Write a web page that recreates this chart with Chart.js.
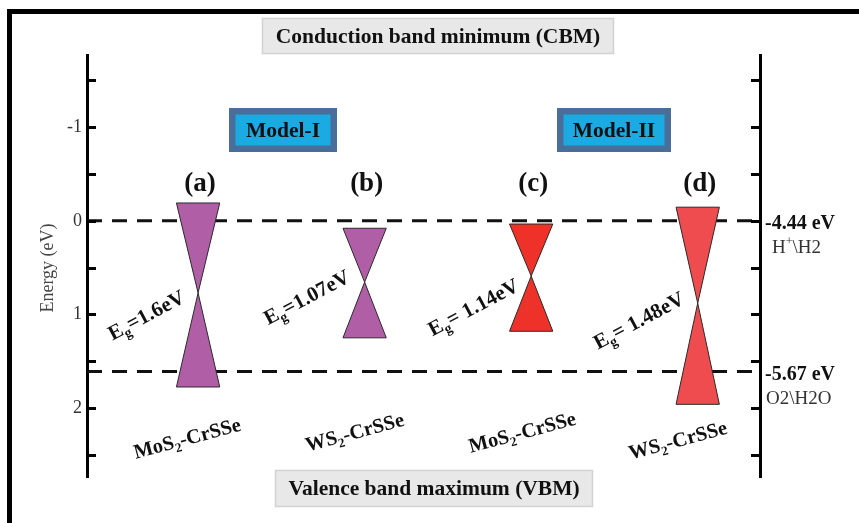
<!DOCTYPE html>
<html><head><meta charset="utf-8">
<script src="https://cdn.jsdelivr.net/npm/chart.js@4.4.1/dist/chart.umd.min.js"></script>
<style>html,body{margin:0;padding:0;background:#fff;overflow:hidden}canvas{display:block}</style>
</head><body>
<canvas id="c" width="859" height="523"></canvas>
<script>
// ---------- data ----------
const categories = ['(a)', '(b)', '(c)', '(d)'];
const materials = ['MoS_2-CrSSe', 'WS_2-CrSSe', 'MoS_2-CrSSe', 'WS_2-CrSSe'];
const bandGaps = ['1.6', '1.07', '1.14', '1.48'];
const cbmTop = [-0.19, 0.08, 0.035, -0.145];
const crossing = [0.77, 0.655, 0.59, 0.88];
const vbmBottom = [1.775, 1.25, 1.18, 1.96];
const redoxLevels = [0, 1.61];
const redoxEnergies = ['-4.44 eV', '-5.67 eV'];
const redoxCouples = ['H^+\\H2', 'O2\\H2O'];
const yTickLabels = ['-1', '0', '1', '2'];
const modelLabels = ['Model-I', 'Model-II'];
const cbmTitle = 'Conduction band minimum (CBM)';
const vbmTitle = 'Valence band maximum (VBM)';
const yAxisTitle = 'Energy (eV)';

// ---------- style / layout ----------
const SERIF = "'Liberation Serif','Times New Roman',serif";
const colors = ['#b05fa6', '#b05fa6', '#ee3129', '#ee4c4f'];
const eqSpace = ['', '', ' ', ' '];
const HW = 0.13;
const X_MIN = -0.667, X_MAX = 3.374;
const Y_MIN = -1.77, Y_MAX = 2.736;
const egOffset = [[-52, 22], [-58, 15], [-58, 31], [-59, 17]];
const matOffset = [[-11, 438], [-10, 432], [-9, 432], [-20, 440]];
const modelBoxes = [[229, 108, 108, 44], [557, 108, 114, 44]];

const datasets = [];
categories.forEach((c, i) => {
  const base = { type: 'line', fill: 'shape', backgroundColor: colors[i], borderColor: '#2a2a2a',
    borderWidth: 1, pointRadius: 0, tension: 0, label: c };
  datasets.push(Object.assign({}, base, { data: [
    { x: i - HW, y: cbmTop[i] }, { x: i + HW, y: cbmTop[i] }, { x: i, y: crossing[i] }, { x: i - HW, y: cbmTop[i] }] }));
  datasets.push(Object.assign({}, base, { data: [
    { x: i, y: crossing[i] }, { x: i + HW, y: vbmBottom[i] }, { x: i - HW, y: vbmBottom[i] }, { x: i, y: crossing[i] }] }));
});
redoxLevels.forEach((v, k) => {
  datasets.push({ type: 'line', label: redoxEnergies[k], data: [{ x: X_MIN, y: v }, { x: X_MAX, y: v }],
    borderColor: '#111', borderWidth: 3, borderDash: [15, 10], pointRadius: 0, fill: false });
});

function parseRich(str, size) {
  const segs = []; let buf = '';
  for (let k = 0; k < str.length; k++) {
    const ch = str[k];
    if ((ch === '_' || ch === '^') && k + 1 < str.length) {
      if (buf) { segs.push({ t: buf, size, dy: 0 }); buf = ''; }
      segs.push({ t: str[k + 1], size: Math.round(size * 0.65), dy: ch === '_' ? size * 0.22 : -size * 0.42 });
      k++;
    } else buf += ch;
  }
  if (buf) segs.push({ t: buf, size, dy: 0 });
  return segs;
}
function drawRich(ctx, str, size, weight, x, y, angle, align, color) {
  const segs = parseRich(str, size);
  let total = 0;
  segs.forEach(s => { ctx.font = `${weight} ${s.size}px ${SERIF}`; s.w = ctx.measureText(s.t).width; total += s.w; });
  ctx.save();
  ctx.translate(x, y); ctx.rotate(angle);
  ctx.fillStyle = color; ctx.textBaseline = 'alphabetic'; ctx.textAlign = 'left';
  let sx = align === 'center' ? -total / 2 : align === 'right' ? -total : 0;
  const base = size * 0.33;
  segs.forEach(s => { ctx.font = `${weight} ${s.size}px ${SERIF}`; ctx.fillText(s.t, sx, base + s.dy); sx += s.w; });
  ctx.restore();
}

const deco = {
  id: 'deco',
  beforeDraw(chart) {
    const ctx = chart.ctx;
    ctx.save();
    ctx.fillStyle = '#fff'; ctx.fillRect(0, 0, chart.width, chart.height);
    ctx.fillStyle = '#000';
    ctx.fillRect(7, 9, 852, 5);
    ctx.fillRect(7, 9, 5, 514);
    ctx.restore();
  },
  afterDraw(chart) {
    const ctx = chart.ctx, ys = chart.scales.y, xs = chart.scales.x, ca = chart.chartArea;
    ctx.save();
    // inward ticks
    ctx.strokeStyle = '#000'; ctx.lineWidth = 3;
    ys.ticks.forEach(t => {
      const py = Math.round(ys.getPixelForValue(t.value)) + 0.5;
      ctx.beginPath(); ctx.moveTo(ca.left, py); ctx.lineTo(ca.left + 9, py); ctx.stroke();
      ctx.beginPath(); ctx.moveTo(ca.right, py); ctx.lineTo(ca.right - 9, py); ctx.stroke();
    });
    // CBM / VBM boxes
    const greyBox = (r, txt) => {
      ctx.fillStyle = '#e8e8e8'; ctx.fillRect(r[0], r[1], r[2], r[3]);
      ctx.strokeStyle = '#d2d2d2'; ctx.lineWidth = 1.5; ctx.strokeRect(r[0] + 0.5, r[1] + 0.5, r[2] - 1, r[3] - 1);
      ctx.fillStyle = '#111'; ctx.font = `bold 21.5px ${SERIF}`; ctx.textAlign = 'center'; ctx.textBaseline = 'middle';
      ctx.fillText(txt, r[0] + r[2] / 2, r[1] + r[3] / 2 + 1);
    };
    greyBox([262, 18, 352, 36], cbmTitle);
    greyBox([275, 470, 318, 37], vbmTitle);
    // model boxes
    modelBoxes.forEach((r, k) => {
      ctx.fillStyle = '#4a6e9a'; ctx.fillRect(r[0], r[1], r[2], r[3]);
      ctx.fillStyle = '#1baae2'; ctx.fillRect(r[0] + 6.5, r[1] + 6.5, r[2] - 13, r[3] - 13);
      ctx.fillStyle = '#111'; ctx.font = `bold 21.5px ${SERIF}`; ctx.textAlign = 'center'; ctx.textBaseline = 'middle';
      ctx.fillText(modelLabels[k], r[0] + r[2] / 2, r[1] + r[3] / 2 + 1);
    });
    // category letters, Eg labels, materials
    categories.forEach((c, i) => {
      const cx = xs.getPixelForValue(i);
      ctx.fillStyle = '#111'; ctx.font = `bold 27px ${SERIF}`; ctx.textAlign = 'center'; ctx.textBaseline = 'middle';
      ctx.fillText(c, cx + 2, 184);
      const cy = ys.getPixelForValue(crossing[i]);
      drawRich(ctx, 'E_g=' + eqSpace[i] + bandGaps[i] + 'eV', 21, 'bold', cx + egOffset[i][0], cy + egOffset[i][1], -28 * Math.PI / 180, 'center', '#111');
      drawRich(ctx, materials[i], 20.5, 'bold', cx + matOffset[i][0], matOffset[i][1], -15 * Math.PI / 180, 'center', '#111');
    });
    // redox labels
    redoxLevels.forEach((v, k) => {
      const py = ys.getPixelForValue(v);
      drawRich(ctx, redoxEnergies[k], 20, 'bold', ca.right + 5, py + 2, 0, 'left', '#111');
      drawRich(ctx, redoxCouples[k], 19, 'normal', ca.right + (k === 0 ? 12 : 6), py + 26, 0, 'left', '#333');
    });
    // y axis title
    ctx.save();
    ctx.translate(48, 268); ctx.rotate(-Math.PI / 2);
    ctx.fillStyle = '#444'; ctx.font = `18px ${SERIF}`; ctx.textAlign = 'center'; ctx.textBaseline = 'middle';
    ctx.fillText(yAxisTitle, 0, 0);
    ctx.restore();
    ctx.restore();
  }
};

new Chart(document.getElementById('c'), {
  type: 'line',
  data: { datasets },
  options: {
    responsive: false, animation: false,
    layout: { padding: { top: 55, bottom: 46, left: 0, right: 0 } },
    plugins: { legend: { display: false }, tooltip: { enabled: false } },
    scales: {
      x: { type: 'linear', min: X_MIN, max: X_MAX, display: false },
      y: {
        type: 'linear', position: 'left', reverse: true, min: Y_MIN, max: Y_MAX,
        afterFit: s => { s.width = 87; },
        grid: { display: false, drawTicks: false },
        border: { display: true, color: '#000', width: 3 },
        ticks: { stepSize: 0.5, includeBounds: false, autoSkip: false, padding: 5, color: '#333',
          font: { family: SERIF, size: 18 },
          callback: v => yTickLabels.includes(String(v)) ? String(v) : '' }
      },
      y2: {
        type: 'linear', position: 'right', reverse: true, min: Y_MIN, max: Y_MAX,
        afterFit: s => { s.width = 99; },
        grid: { display: false, drawTicks: false },
        border: { display: true, color: '#000', width: 3 },
        ticks: { display: false }
      }
    }
  },
  plugins: [deco]
});
</script>
</body></html>
